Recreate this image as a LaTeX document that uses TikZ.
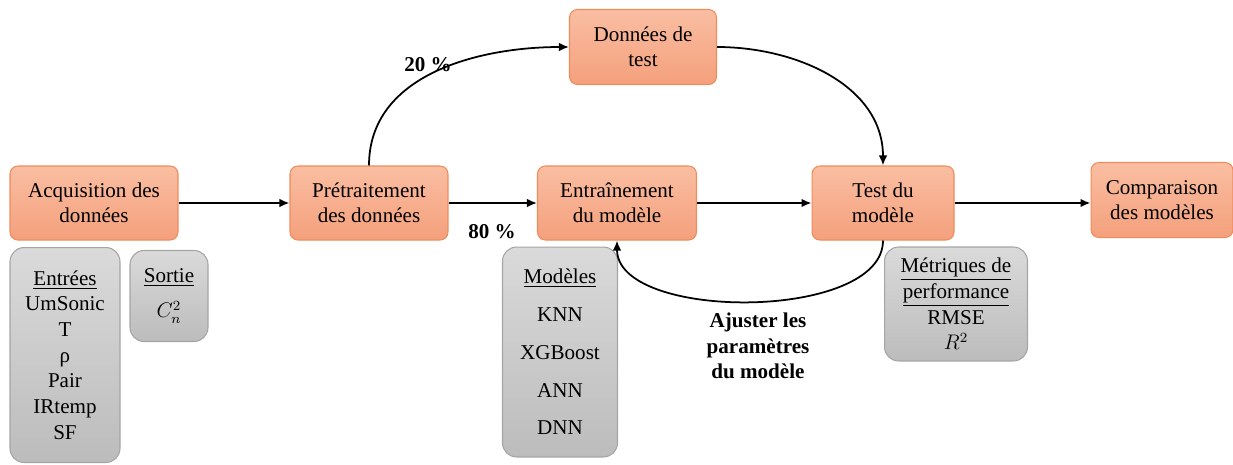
\documentclass[tikz,border=0pt]{standalone}
\usepackage{fontspec}
\setmainfont{Liberation Serif}
\usepackage{xcolor}
\definecolor{steptop}{RGB}{250,190,162}
\definecolor{stepbot}{RGB}{244,160,124}
\definecolor{stepedge}{RGB}{238,140,92}
\definecolor{infotop}{RGB}{218,218,218}
\definecolor{infobot}{RGB}{188,188,188}
\definecolor{infoedge}{RGB}{165,165,165}
\usetikzlibrary{positioning,arrows.meta}
\tikzset{
  stepbox/.style={rectangle,rounded corners=4.5pt,draw=stepedge,line width=0.6pt,
    top color=steptop,bottom color=stepbot,text=black,align=center,
    font=\fontsize{12}{14.4}\selectfont,minimum height=1.48cm,inner sep=2pt},
  infobox/.style={rectangle,rounded corners=8pt,draw=infoedge,line width=0.6pt,
    top color=infotop,bottom color=infobot,text=black,align=center,
    font=\fontsize{12}{14.6}\selectfont,inner sep=2pt},
  fl/.style={-{Latex[length=2mm,width=1.7mm]},draw=black,line width=1pt},
  lab/.style={align=center,font=\fontsize{12}{14.4}\selectfont\bfseries},
}
\begin{document}
\begin{tikzpicture}[x=0.02cm,y=-0.02cm]
  \useasboundingbox (0,0) rectangle (1233,464);
  % --- étapes ---
  \node[stepbox,minimum width=3.36cm] (ACQ) at (94,203) {Acquisition des\\données};
  \node[stepbox,minimum width=3.16cm] (PRE) at (369,203) {Prétraitement\\des données};
  \node[stepbox,minimum width=3.18cm] (ENT) at (617,203) {Entraînement\\du modèle};
  \node[stepbox,minimum width=2.94cm,minimum height=1.5cm] (TST) at (643,47) {Données de\\test};
  \node[stepbox,minimum width=2.84cm] (TEV) at (883,203) {Test du\\modèle};
  \node[stepbox,minimum width=2.84cm,minimum height=1.5cm] (CMP) at (1162,200) {Comparaison\\des modèles};
  % --- encadrés gris ---
  \node[infobox,minimum width=2.2cm,minimum height=4.3cm] (INP) at (65,355)
    {\underline{Entrées}\\UmSonic\\T\\ρ\\Pair\\IRtemp\\SF};
  \node[infobox,minimum width=1.56cm,minimum height=1.82cm,font=\fontsize{12}{20}\selectfont] (OUT) at (169,296)
    {\underline{Sortie}\\$C_n^2$};
  \node[infobox,minimum width=2.3cm,minimum height=4.2cm,font=\fontsize{12}{21.5}\selectfont] (MOD) at (560,352)
    {\underline{Modèles}\\KNN\\XGBoost\\ANN\\DNN};
  \node[infobox,minimum width=2.86cm,minimum height=2.28cm] (MET) at (956,304)
    {\underline{Métriques de}\\\underline{performance}\\RMSE\\$R^2$};
  % --- flèches ---
  \draw[fl] (ACQ.east) -- (PRE.west);
  \draw[fl] (PRE.east) -- (ENT.west);
  \draw[fl] (ENT.east) -- (TEV.west);
  \draw[fl] (TEV.east) -- (CMP.west |- TEV.east);
  \draw[fl] (PRE.north) to[out=90,in=180] (TST.west);
  \draw[fl] (TST.east) to[out=0,in=90] (TEV.north);
  \draw[fl] (TEV.south) to[out=-90,in=-90,looseness=0.78] (ENT.south);
  % --- étiquettes ---
  \node[lab] (P20) at (428,65) {20 \%};
  \node[lab] (P80) at (492,232) {80 \%};
  \node[lab] (ADJ) at (758,346) {Ajuster les\\paramètres\\du modèle};
\end{tikzpicture}
\end{document}
